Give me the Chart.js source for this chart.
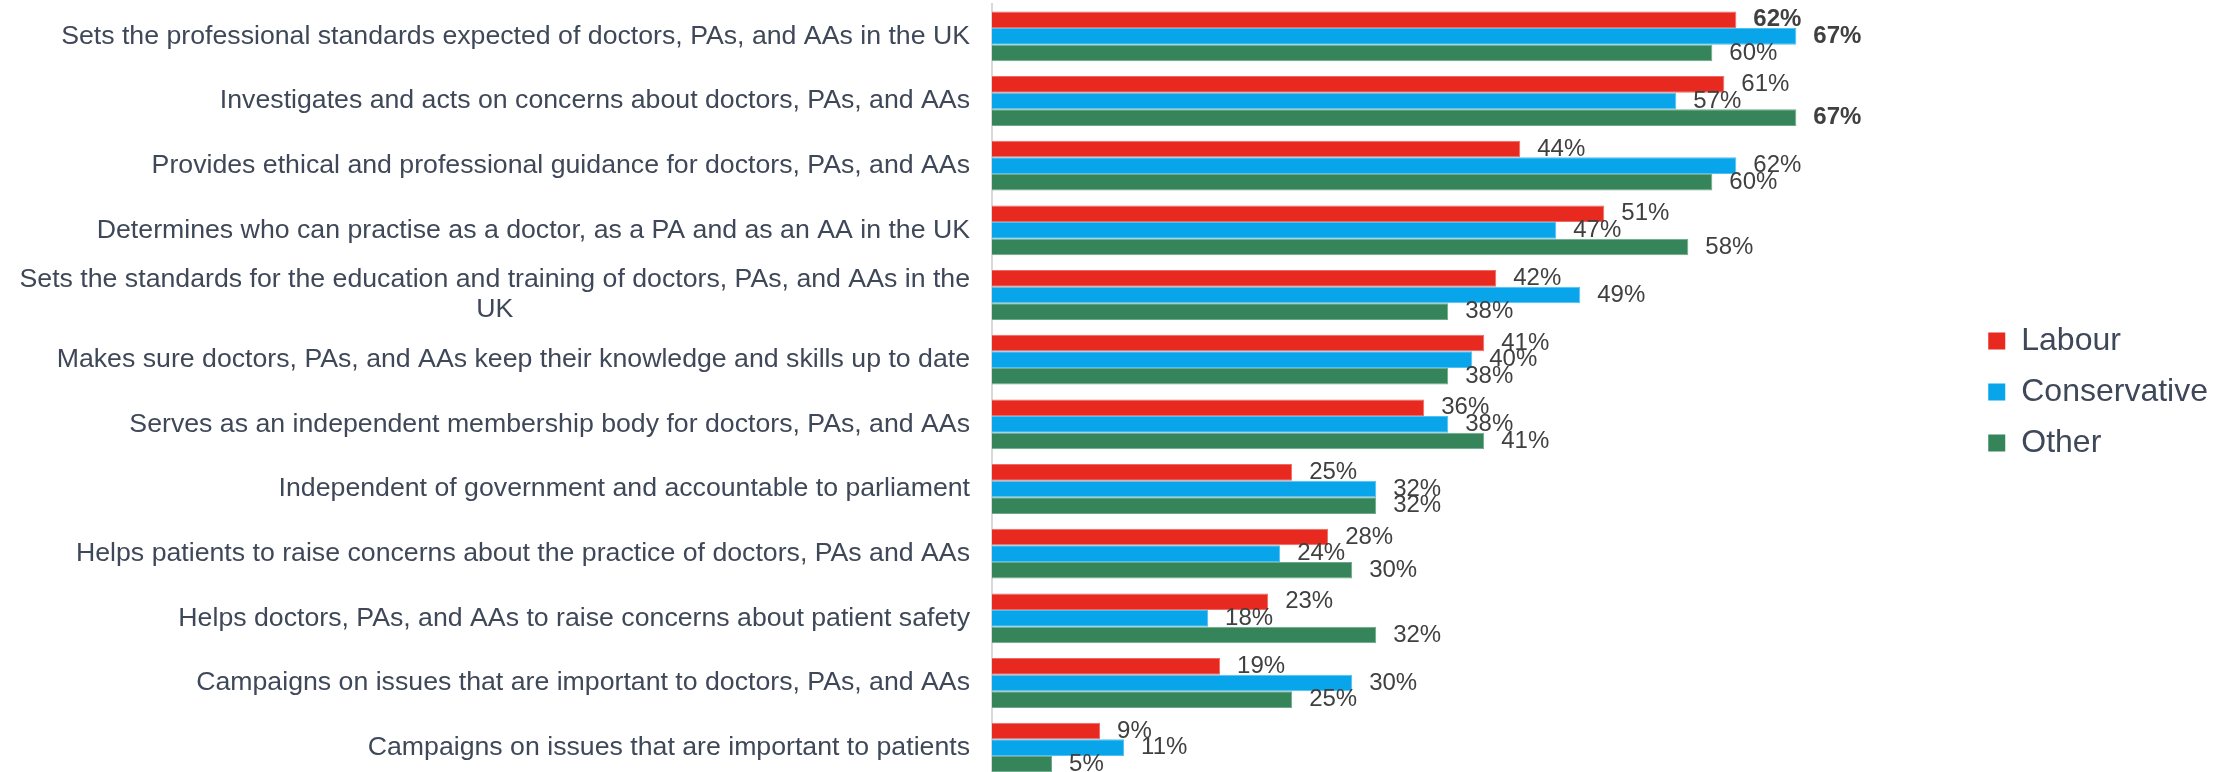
<!DOCTYPE html>
<html>
<head>
<meta charset="utf-8">
<script src="https://cdn.jsdelivr.net/npm/chart.js@4.4.1/dist/chart.umd.min.js"></script>
<style>
  html, body { margin: 0; padding: 0; background: #fff; overflow: hidden; }
</style>
</head>
<body>
<canvas id="chart" width="2233" height="780"></canvas>
<script>
// data
const categories = [
  'Sets the professional standards expected of doctors, PAs, and AAs in the UK',
  'Investigates and acts on concerns about doctors, PAs, and AAs',
  'Provides ethical and professional guidance for doctors, PAs, and AAs',
  'Determines who can practise as a doctor, as a PA and as an AA in the UK',
  ['Sets the standards for the education and training of doctors, PAs, and AAs in the', 'UK'],
  'Makes sure doctors, PAs, and AAs keep their knowledge and skills up to date',
  'Serves as an independent membership body for doctors, PAs, and AAs',
  'Independent of government and accountable to parliament',
  'Helps patients to raise concerns about the practice of doctors, PAs and AAs',
  'Helps doctors, PAs, and AAs to raise concerns about patient safety',
  'Campaigns on issues that are important to doctors, PAs, and AAs',
  'Campaigns on issues that are important to patients'
];
const seriesNames = ['Labour', 'Conservative', 'Other'];
const labour       = [62, 61, 44, 51, 42, 41, 36, 25, 28, 23, 19, 9];
const conservative = [67, 57, 62, 47, 49, 40, 38, 32, 24, 18, 30, 11];
const other        = [60, 67, 60, 58, 38, 38, 41, 32, 30, 32, 25, 5];
// [series index, category index] of labels shown in bold
const boldLabels = [[0, 0], [1, 0], [2, 1]];

const FONT = "'Liberation Sans', Arial, sans-serif";
const colors = ['#E8291F', '#08A5EB', '#36845A'];
const edges = ['#EE6A62', '#52C0F0', '#6FA88A'];

const catLabels = {
  id: 'catLabels',
  afterDraw(chart) {
    const { ctx, scales: { y } } = chart;
    const right = chart.chartArea.left - 22;
    ctx.save();
    ctx.font = '26.7px ' + FONT;
    ctx.fillStyle = '#3F4858';
    ctx.textBaseline = 'middle';
    ctx.textAlign = 'center';
    categories.forEach((lab, i) => {
      const cy = y.getPixelForValue(i);
      const lines = Array.isArray(lab) ? lab : [lab];
      const w = Math.max(...lines.map(l => ctx.measureText(l).width));
      const lh = 30;
      const y0 = cy - (lines.length - 1) * lh / 2;
      lines.forEach((l, k) => ctx.fillText(l, right - w / 2, y0 + k * lh));
    });
    ctx.restore();
  }
};

const valueLabels = {
  id: 'valueLabels',
  afterDatasetsDraw(chart) {
    const { ctx } = chart;
    ctx.save();
    ctx.fillStyle = '#404040';
    ctx.textBaseline = 'middle';
    ctx.textAlign = 'left';
    chart.data.datasets.forEach((ds, di) => {
      const meta = chart.getDatasetMeta(di);
      meta.data.forEach((bar, i) => {
        const bold = boldLabels.some(([s, c]) => s === di && c === i);
        ctx.font = (bold ? 'bold ' : '') + '24px ' + FONT;
        ctx.fillText(ds.data[i] + '%', bar.x + 17, bar.y);
      });
    });
    ctx.restore();
  }
};

new Chart(document.getElementById('chart'), {
  type: 'bar',
  data: {
    labels: categories,
    datasets: [
      { label: seriesNames[0], data: labour, backgroundColor: colors[0], borderColor: edges[0] },
      { label: seriesNames[1], data: conservative, backgroundColor: colors[1], borderColor: edges[1] },
      { label: seriesNames[2], data: other, backgroundColor: colors[2], borderColor: edges[2] }
    ]
  },
  options: {
    indexAxis: 'y',
    responsive: false,
    devicePixelRatio: 1,
    animation: false,
    layout: { padding: { top: 4, bottom: 0, left: 0, right: 15 } },
    datasets: { bar: { categoryPercentage: 0.77, barPercentage: 1.0, borderWidth: 1 } },
    scales: {
      x: { display: false, min: 0, max: 81.4 },
      y: {
        grid: { display: false },
        border: { display: true, color: '#D9D9D9', width: 2 },
        ticks: { display: false },
        afterFit(scale) { scale.width = 992; }
      }
    },
    plugins: {
      tooltip: { enabled: false },
      legend: {
        position: 'right',
        align: 'center',
        labels: {
          boxWidth: 17,
          boxHeight: 17,
          padding: 19,
          color: '#3F4858',
          font: { family: FONT, size: 32 },
          generateLabels(chart) {
            return chart.data.datasets.map((ds, i) => ({
              text: ds.label,
              fillStyle: ds.backgroundColor,
              strokeStyle: ds.backgroundColor,
              lineWidth: 0,
              fontColor: '#3F4858',
              datasetIndex: i
            }));
          }
        }
      }
    }
  },
  plugins: [catLabels, valueLabels]
});
</script>
</body>
</html>
